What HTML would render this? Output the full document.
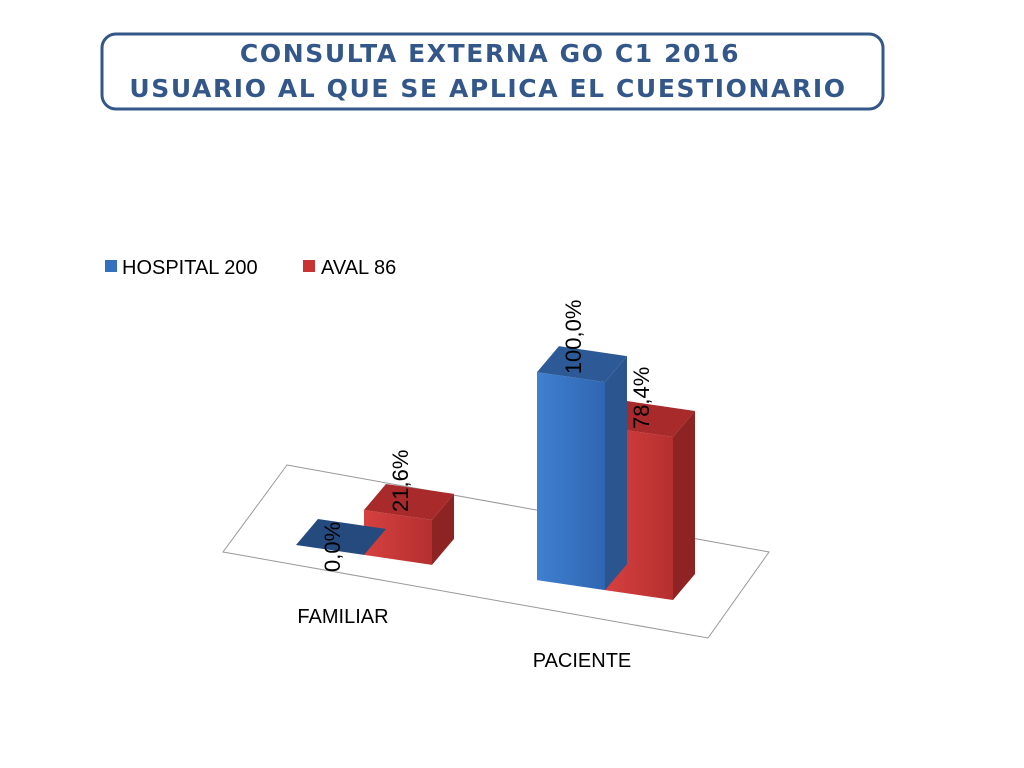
<!DOCTYPE html>
<html><head><meta charset="utf-8"><style>
body{margin:0;width:1024px;height:768px;background:#fff;overflow:hidden}
svg{display:block}
</style></head><body>
<svg id="c" width="1024" height="768">
<defs>
<linearGradient id="gb" x1="0" x2="1"><stop offset="0" stop-color="#3f80d0"/><stop offset="1" stop-color="#2f66b2"/></linearGradient>
<linearGradient id="gr" x1="0" x2="1"><stop offset="0" stop-color="#d64040"/><stop offset="1" stop-color="#b52f2f"/></linearGradient>
</defs>
<rect x="102" y="34" width="781" height="75" rx="14" fill="#fff" stroke="#34578a" stroke-width="3"/>
<text x="490" y="62" text-anchor="middle" font-family="DejaVu Sans, sans-serif" font-weight="bold" font-size="25" letter-spacing="1.6" fill="#34578a">CONSULTA EXTERNA GO C1 2016</text>
<text x="488" y="97" text-anchor="middle" font-family="DejaVu Sans, sans-serif" font-weight="bold" font-size="25" letter-spacing="1.6" fill="#34578a">USUARIO AL QUE SE APLICA EL CUESTIONARIO</text>
<g font-family="Liberation Sans, sans-serif" font-size="20" fill="#000">
<rect x="105" y="260" width="12" height="12" fill="#3470c0"/>
<text x="122" y="274">HOSPITAL 200</text>
<rect x="303" y="260" width="12" height="12" fill="#c83434"/>
<text x="321" y="274">AVAL 86</text>
</g>
<polygon points="287,465 769,552 708,638 223,552" fill="none" stroke="#999" stroke-width="1"/>
<g id="bars"></g>
<text x="343" y="623" text-anchor="middle" font-family="Liberation Sans, sans-serif" font-size="20">FAMILIAR</text>
<text x="582" y="667" text-anchor="middle" font-family="Liberation Sans, sans-serif" font-size="20">PACIENTE</text>
</svg>
<script>
const categories = ["FAMILIAR", "PACIENTE"];
const hospital = [0.0, 100.0];
const aval = [21.6, 78.4];
const labelsHospital = ["0,0%", "100,0%"];
const labelsAval = ["21,6%", "78,4%"];

const NS = "http://www.w3.org/2000/svg";
const g = document.getElementById("bars");
const groupX = [296, 537];
const barW = 68, dx = 22, dy = -26, slope = 0.146, hScale = 2.08;
function groundY(x){ return 545 + slope*(x-296); }
function yScale(v){ return v*hScale; }
function poly(pts, fill, name){
  const p = document.createElementNS(NS, "polygon");
  p.setAttribute("points", pts.map(a=>a.join(",")).join(" "));
  p.setAttribute("fill", fill);
  
  
  g.appendChild(p);
}
function bar(x, v, front, side, top, name, label){
  const h = yScale(v);
  const x2 = x + barW;
  const b1 = groundY(x), b2 = groundY(x2);
  const t1 = b1 - h, t2 = b2 - h;
  if (h > 0.5) {
    poly([[x2,t2],[x2+dx,t2+dy],[x2+dx,b2+dy],[x2,b2]], side, name+"-side");
    poly([[x,t1],[x2,t2],[x2,b2],[x,b1]], front, name+"-front");
  }
  poly([[x,t1],[x+dx,t1+dy],[x2+dx,t2+dy],[x2,t2]], top, name+"-top");
  const t = document.createElementNS(NS, "text");
  const lx = x + barW/2 + 10, ly = t1 - 8;
  t.setAttribute("transform", "translate("+lx+","+ly+") rotate(-90)");
  t.setAttribute("font-family", "Liberation Sans, sans-serif");
  t.setAttribute("font-size", "22");
  t.setAttribute("x", h > 0.5 ? -10 : -35);
  t.textContent = label;
  
  
  document.getElementById("c").appendChild(t);
}
categories.forEach((c,i)=>{
  const x = groupX[i];
  bar(x+barW, aval[i], "url(#gr)", "#8e2323", "#a82a2a", "bar-aval-"+c.toLowerCase(), labelsAval[i]);
  bar(x, hospital[i], "url(#gb)", "#2a558f", h0(hospital[i]) ? "#244a7e" : "#2d5a96", "bar-hospital-"+c.toLowerCase(), labelsHospital[i]);
});
function h0(v){ return v < 0.5; }
</script>
</body></html>
